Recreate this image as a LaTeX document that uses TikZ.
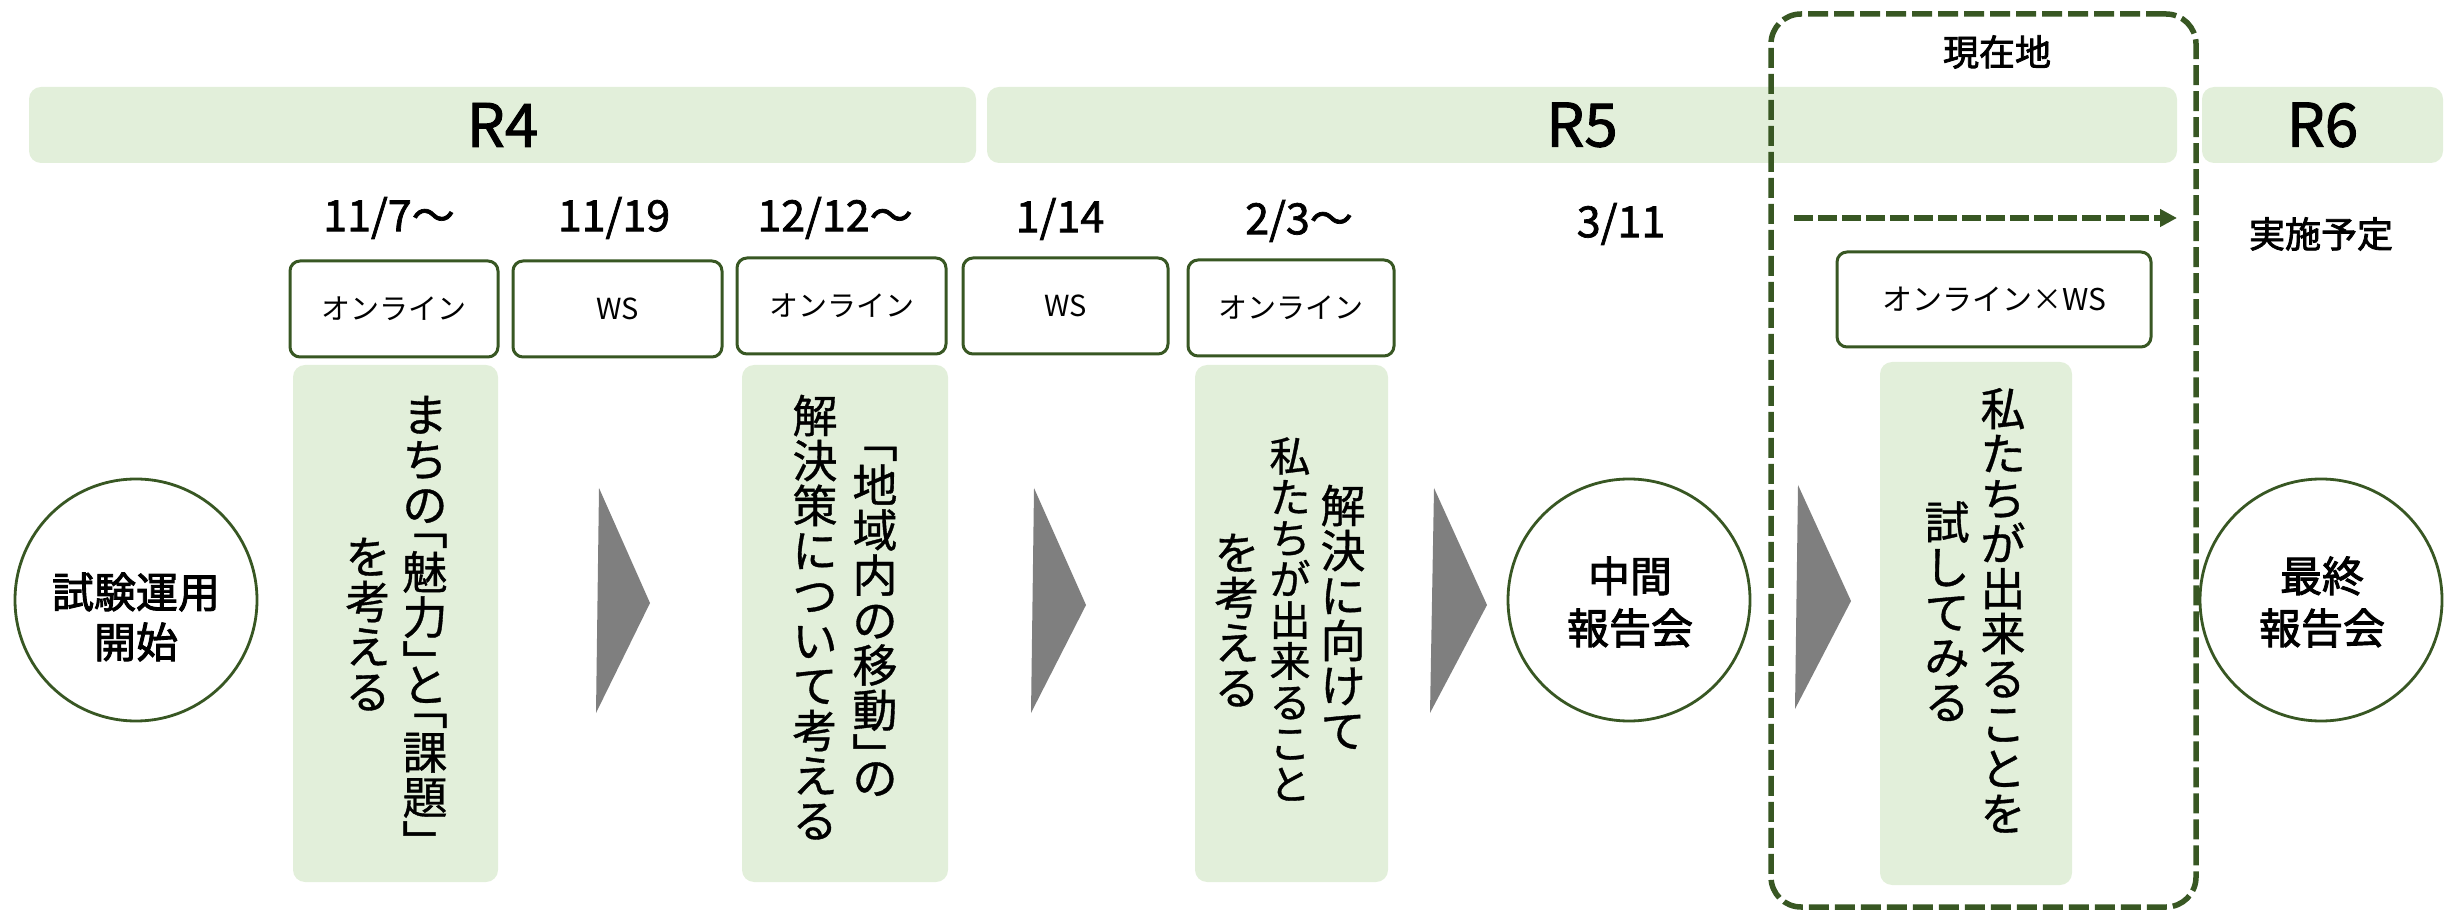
\documentclass[tikz,border=0pt]{standalone}
\usepackage{fontspec}
\setmainfont{Noto Sans CJK JP}
\newfontfamily\medf{Noto Sans CJK JP}[FakeBold=1.6]
\newfontfamily\strongf{Noto Sans CJK JP}[FakeBold=2.2]
\newfontfamily\vtf{Noto Sans CJK JP}[FakeBold=0.8]
\usetikzlibrary{arrows.meta}
\definecolor{lg}{HTML}{E2EFDA}
\definecolor{dg}{HTML}{385723}
\definecolor{ag}{HTML}{7F7F7F}
% vertical column of characters: #1 = em size, #2 = rows
\newcommand\vcol[2]{\vbox{\fontsize{#1}{#1}\selectfont\baselineskip=#1\lineskiplimit=-\maxdimen\lineskip=0pt
  \halign{\hfil##\hfil\vrule height .88em depth .12em width 0pt\cr#2}}}
\newcommand\HS{\noalign{\kern-.5em}}
\begin{document}
\begin{tikzpicture}[x=0.5pt,y=-0.5pt,
  bar/.style={fill=lg, rounded corners=6pt, minimum height=38pt, inner sep=0pt, font=\fontsize{30}{30}\medf},
  tag/.style={draw=dg, line width=1.5pt, fill=white, rounded corners=5pt, minimum width=104pt, minimum height=48pt, inner sep=0pt, font=\fontsize{14.5}{14.5}\selectfont},
  gbox/.style={fill=lg, rounded corners=6pt, minimum height=258.5pt, inner sep=0pt},
  date/.style={font=\fontsize{21.5}{21.5}\medf, inner sep=0pt},
  milestone/.style={circle, draw=dg, line width=1.4pt, fill=white, minimum size=121pt, inner sep=0pt},
  mtext/.style={font=\fontsize{21}{25}\strongf, align=center, inner sep=0pt},
  vt/.style={inner sep=0pt, font=\vtf},
  chev/.style={fill=ag},
]
\useasboundingbox (0,0) rectangle (2455,913);

% year bars
\node[bar, minimum width=473.5pt] (r4) at (502.5,125) {R4};
\node[bar, minimum width=595pt] (r5) at (1582,125) {R5};
\node[bar, minimum width=120.5pt] (r6) at (2322.5,125) {R6};

% current-position dashed frame
\node[draw=dg, line width=2.75pt, dash pattern=on 10pt off 3pt, rounded corners=15pt,
      minimum width=212.5pt, minimum height=446.5pt, inner sep=0pt] (now) at (1983.5,460.5) {};
\node[font=\fontsize{18}{18}\strongf, inner sep=0pt] (nowlabel) at (1997,52) {現在地};
\coordinate (ds) at (1794,218);
\coordinate (de) at (2177,218);
\draw[dg, line width=3pt, dash pattern=on 9.5pt off 2.5pt, -{Triangle[length=8.5pt,width=8.5pt]}] (ds) -- (de);

% dates
\node[date] (d1) at (389,218) {11/7〜};
\node[date] (d2) at (614,218) {11/19};
\node[date] (d3) at (835,218) {12/12〜};
\node[date] (d4) at (1060,219) {1/14};
\node[date] (d5) at (1299,221) {2/3〜};
\node[date] (d6) at (1621,224) {3/11};
\node[font=\fontsize{18}{18}\strongf, inner sep=0pt] (d7) at (2321,234) {実施予定};

% format tags
\node[tag] (b1) at (394,309) {オンライン};
\node[tag, minimum width=104.5pt] (b2) at (617.5,309) {WS};
\node[tag, minimum width=104.5pt] (b3) at (841.5,306) {オンライン};
\node[tag, minimum width=102.5pt] (b4) at (1065.5,306) {WS};
\node[tag, minimum width=103pt] (b5) at (1291,308) {オンライン};
\node[tag, minimum width=157pt, minimum height=47.5pt, font=\fontsize{15}{15}\selectfont] (b6) at (1994,299.5) {オンライン×WS};

% green content boxes
\node[gbox, minimum width=102.5pt] (g1) at (395.5,623.5) {};
\node[gbox, minimum width=103pt] (g2) at (845,623.5) {};
\node[gbox, minimum width=96.5pt] (g3) at (1291.5,623.5) {};
\node[gbox, minimum width=96pt, minimum height=261.5pt] (g4) at (1976,623.5) {};

% vertical texts
\node[vt] (t1a) at (425,617) {\vcol{22.5pt}{ま\cr ち\cr の\cr\HS ﹁\cr 魅\cr 力\cr ﹂\cr\HS と\cr\HS ﹁\cr 課\cr 題\cr ﹂\cr\HS}};
\node[vt] (t1b) at (368,624) {\vcol{22.5pt}{を\cr 考\cr え\cr る\cr}};
\node[vt] (t2a) at (875,620) {\vcol{22.5pt}{\HS ﹁\cr 地\cr 域\cr 内\cr の\cr 移\cr 動\cr ﹂\cr\HS の\cr}};
\node[vt] (t2b) at (815,618) {\vcol{22.5pt}{解\cr 決\cr 策\cr に\cr つ\cr い\cr て\cr 考\cr え\cr る\cr}};
\node[vt] (t3a) at (1343,618) {\vcol{22.5pt}{解\cr 決\cr に\cr 向\cr け\cr て\cr}};
\node[vt] (t3b) at (1290,620) {\vcol{20.5pt}{私\cr た\cr ち\cr が\cr 出\cr 来\cr る\cr こ\cr と\cr}};
\node[vt] (t3c) at (1237,620) {\vcol{22.5pt}{を\cr 考\cr え\cr る\cr}};
\node[vt] (t4a) at (2003,611) {\vcol{22.5pt}{私\cr た\cr ち\cr が\cr 出\cr 来\cr る\cr こ\cr と\cr を\cr}};
\node[vt] (t4b) at (1947,612) {\vcol{22.5pt}{試\cr し\cr て\cr み\cr る\cr}};

% milestones
\node[milestone] (c1) at (136,600) {};
\node[mtext] (c1t) at (136,617) {試験運用\\開始};
\node[milestone] (c2) at (1629,600) {};
\node[mtext, font=\fontsize{21}{26}\strongf] (c2t) at (1630,602) {中間\\報告会};
\node[milestone] (c3) at (2321,600) {};
\node[mtext, font=\fontsize{21}{26}\strongf] (c3t) at (2322,602) {最終\\報告会};

% chevrons
\fill[chev] (599,488) -- (650,603) -- (596,713) -- cycle;
\fill[chev] (1034,488) -- (1086,605) -- (1031,713) -- cycle;
\fill[chev] (1434,488) -- (1487,605) -- (1430,713) -- cycle;
\fill[chev] (1798,485) -- (1851,601) -- (1795,709) -- cycle;
\end{tikzpicture}
\end{document}
